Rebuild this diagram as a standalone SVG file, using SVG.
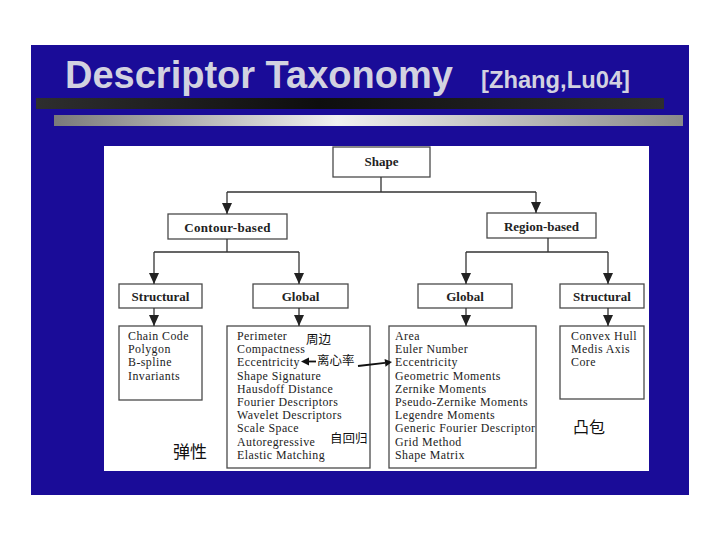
<svg xmlns="http://www.w3.org/2000/svg" width="720" height="540" viewBox="0 0 720 540">
<style>
.title{font-family:"Liberation Sans",Arial,sans-serif;font-weight:bold;fill:#d2d2e0}
.box{fill:#ffffff;stroke:#4a4a4a;stroke-width:1.3}
.lbl{font-family:"Liberation Serif","Times New Roman",serif;font-weight:bold;font-size:13px;fill:#222;text-anchor:middle}
.item{font-family:"Liberation Serif","Times New Roman",serif;font-size:11.9px;letter-spacing:0.45px;fill:#222}
.cn{font-family:"Noto Sans CJK SC","Noto Sans CJK JP",sans-serif;fill:#111}
.conn{fill:none;stroke:#333;stroke-width:1.3}
.head{fill:#111;stroke:none}
</style>
<defs>
<linearGradient id="darkbar" x1="0" y1="0" x2="1" y2="0">
<stop offset="0" stop-color="#2e2e2e"/>
<stop offset="0.45" stop-color="#0e0e0e"/>
<stop offset="1" stop-color="#2e2e2e"/>
</linearGradient>
<linearGradient id="graybar" x1="0" y1="0" x2="1" y2="0">
<stop offset="0" stop-color="#7a7a7a"/>
<stop offset="0.45" stop-color="#f0f0f0"/>
<stop offset="1" stop-color="#8a8a8a"/>
</linearGradient>
<marker id="ah" viewBox="0 0 10 10" refX="10" refY="5" markerWidth="11" markerHeight="10" orient="auto" markerUnits="userSpaceOnUse" preserveAspectRatio="none">
<path d="M0,0 L10,5 L0,10 z" fill="#222"/>
</marker>
<clipPath id="clipG2"><rect x="389" y="326" width="147" height="142"/></clipPath>
</defs>

<rect x="0" y="0" width="720" height="540" fill="#ffffff"/>
<rect x="31" y="45" width="658" height="450" fill="#1a0c98"/>

<g id="title">
<text class="title" x="65" y="88" font-size="38">Descriptor Taxonomy</text>
<text class="title" x="481" y="88" font-size="23" textLength="149" lengthAdjust="spacingAndGlyphs">[Zhang,Lu04]</text>
</g>
<rect x="36" y="98" width="628" height="11" fill="url(#darkbar)"/>
<rect x="54" y="115" width="629" height="11" fill="url(#graybar)"/>

<rect x="104" y="146" width="545" height="325" fill="#ffffff"/>

<g id="shape">
<rect class="box" x="333" y="147" width="97" height="30"/>
<text class="lbl" x="381.5" y="166">Shape</text>
</g>
<g id="contour-based">
<rect class="box" x="168" y="214" width="119" height="25"/>
<text class="lbl" x="227.5" y="232" letter-spacing="0.3">Contour-based</text>
</g>
<g id="region-based">
<rect class="box" x="487" y="213" width="109" height="25"/>
<text class="lbl" x="541.5" y="231">Region-based</text>
</g>
<g id="contour-structural">
<rect class="box" x="119" y="284" width="83" height="24"/>
<text class="lbl" x="160.5" y="301">Structural</text>
</g>
<g id="contour-global">
<rect class="box" x="253" y="284" width="95" height="24"/>
<text class="lbl" x="300.5" y="301">Global</text>
</g>
<g id="region-global">
<rect class="box" x="418" y="284" width="94" height="24"/>
<text class="lbl" x="465" y="301">Global</text>
</g>
<g id="region-structural">
<rect class="box" x="560" y="284" width="84" height="24"/>
<text class="lbl" x="602" y="301">Structural</text>
</g>

<g id="contour-structural-list">
<rect class="box" x="119" y="326" width="83" height="74"/>
<text class="item" x="128" y="340">Chain Code</text>
<text class="item" x="128" y="353.2">Polygon</text>
<text class="item" x="128" y="366.4">B-spline</text>
<text class="item" x="128" y="379.6">Invariants</text>
</g>
<g id="contour-global-list">
<rect class="box" x="227" y="326" width="143" height="142"/>
<text class="item" x="237" y="340">Perimeter</text>
<text class="item" x="237" y="353.2">Compactness</text>
<text class="item" x="237" y="366.4">Eccentricity</text>
<text class="item" x="237" y="379.6">Shape Signature</text>
<text class="item" x="237" y="392.8">Hausdoff Distance</text>
<text class="item" x="237" y="406">Fourier Descriptors</text>
<text class="item" x="237" y="419.2">Wavelet Descriptors</text>
<text class="item" x="237" y="432.4">Scale Space</text>
<text class="item" x="237" y="445.6">Autoregressive</text>
<text class="item" x="237" y="458.8">Elastic Matching</text>
</g>
<g id="region-global-list">
<rect class="box" x="389" y="326" width="147" height="142"/>
<g clip-path="url(#clipG2)">
<text class="item" x="395" y="340">Area</text>
<text class="item" x="395" y="353.2">Euler Number</text>
<text class="item" x="395" y="366.4">Eccentricity</text>
<text class="item" x="395" y="379.6">Geometric Moments</text>
<text class="item" x="395" y="392.8">Zernike Moments</text>
<text class="item" x="395" y="406">Pseudo-Zernike Moments</text>
<text class="item" x="395" y="419.2">Legendre Moments</text>
<text class="item" x="395" y="432.4">Generic Fourier Descriptor</text>
<text class="item" x="395" y="445.6">Grid Method</text>
<text class="item" x="395" y="458.8">Shape Matrix</text>
</g>
</g>
<g id="region-structural-list">
<rect class="box" x="560" y="326" width="84" height="73"/>
<text class="item" x="571" y="340">Convex Hull</text>
<text class="item" x="571" y="353.2">Medis Axis</text>
<text class="item" x="571" y="366.4">Core</text>
</g>

<g id="annotations">
<text class="cn" x="306" y="344" font-size="12.5">周边</text>
<text class="cn" x="317" y="365" font-size="12.5">离心率</text>
<text class="cn" x="330" y="443" font-size="12.5">自回归</text>
<text class="cn" x="173" y="458" font-size="17">弹性</text>
<text class="cn" x="573" y="433" font-size="16">凸包</text>
</g>

<g id="connectors">
<path class="conn" d="M381,177 V192 M227,192 H536"/>
<path class="conn" d="M227,192 V214" marker-end="url(#ah)"/>
<path class="conn" d="M536,192 V213" marker-end="url(#ah)"/>
<path class="conn" d="M227,239 V252 M154,252 H299"/>
<path class="conn" d="M154,252 V284" marker-end="url(#ah)"/>
<path class="conn" d="M299,252 V284" marker-end="url(#ah)"/>
<path class="conn" d="M548,238 V252 M466,252 H608"/>
<path class="conn" d="M466,252 V284" marker-end="url(#ah)"/>
<path class="conn" d="M608,252 V284" marker-end="url(#ah)"/>
<path class="conn" d="M154,308 V326" marker-end="url(#ah)"/>
<path class="conn" d="M299,308 V326" marker-end="url(#ah)"/>
<path class="conn" d="M466,308 V326" marker-end="url(#ah)"/>
<path class="conn" d="M608,308 V326" marker-end="url(#ah)"/>
<path d="M316,361.5 H308" stroke="#111" stroke-width="1.8" fill="none"/>
<polygon class="head" points="301,361.5 309,357.5 309,365.5"/>
<path d="M358,366 L385,362.8" stroke="#111" stroke-width="1.8" fill="none"/>
<polygon class="head" points="392,362 384.6,358.9 385.5,366.8"/>
</g>
</svg>
